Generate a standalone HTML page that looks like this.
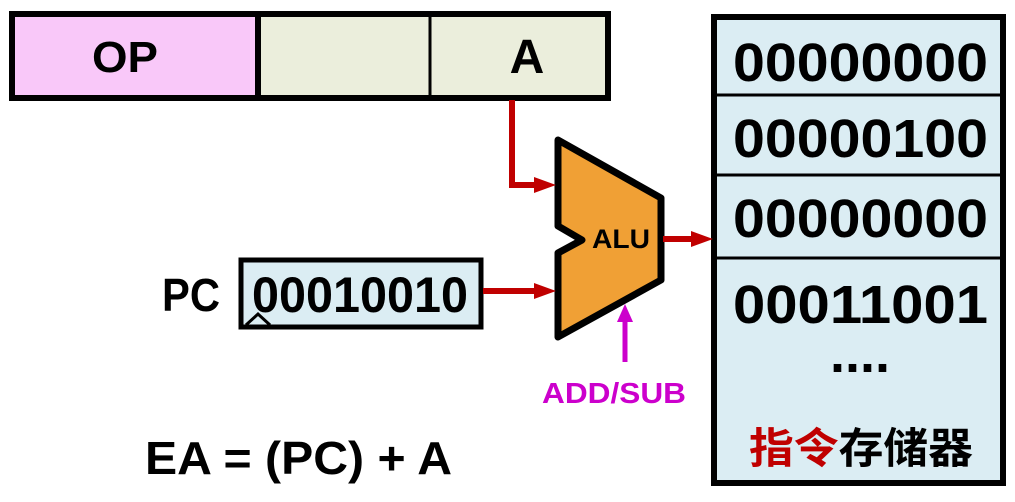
<!DOCTYPE html>
<html><head><meta charset="utf-8"><style>
body{margin:0;width:1015px;height:497px;background:#fff;overflow:hidden}
text{font-family:"Liberation Sans","Noto Sans CJK SC",sans-serif;font-weight:bold}
</style></head><body>
<svg width="1015" height="497" viewBox="0 0 1015 497">
<!-- instruction -->
<rect x="12" y="14" width="246" height="84" fill="#f9c8f9"/>
<rect x="258" y="14" width="350" height="84" fill="#ebeedc"/>
<rect x="12" y="14" width="596" height="84" fill="none" stroke="#000" stroke-width="6"/>
<line x1="258" y1="14" x2="258" y2="98" stroke="#000" stroke-width="6"/>
<line x1="430" y1="14" x2="430" y2="98" stroke="#000" stroke-width="3"/>
<text x="92" y="72" font-size="44" textLength="66" lengthAdjust="spacingAndGlyphs">OP</text>
<text x="527" y="73" font-size="48" text-anchor="middle">A</text>
<!-- memory -->
<rect x="714" y="17" width="289" height="466" fill="#dbedf3" stroke="#000" stroke-width="6"/>
<line x1="714" y1="95" x2="1003" y2="95" stroke="#000" stroke-width="3"/>
<line x1="714" y1="175" x2="1003" y2="175" stroke="#000" stroke-width="3"/>
<line x1="714" y1="258" x2="1003" y2="258" stroke="#000" stroke-width="3"/>
<g font-size="54" lengthAdjust="spacingAndGlyphs">
<text x="733" y="81" textLength="255" lengthAdjust="spacingAndGlyphs">00000000</text>
<text x="733" y="157" textLength="255" lengthAdjust="spacingAndGlyphs">00000100</text>
<text x="733" y="237" textLength="255" lengthAdjust="spacingAndGlyphs">00000000</text>
<text x="733" y="323" textLength="255" lengthAdjust="spacingAndGlyphs">00011001</text>
<text x="860" y="372" text-anchor="middle">....</text>
</g>
<text x="749" y="463" font-size="42" textLength="224" lengthAdjust="spacingAndGlyphs"><tspan fill="#c00000">指令</tspan>存储器</text>
<!-- PC -->
<text x="162" y="311" font-size="46" textLength="58" lengthAdjust="spacingAndGlyphs">PC</text>
<rect x="241" y="260" width="240" height="67" fill="#dbedf3" stroke="#000" stroke-width="5"/>
<path d="M246,325 L258,314 L270,325" fill="none" stroke="#000" stroke-width="3"/>
<text x="252" y="312" font-size="50" textLength="216" lengthAdjust="spacingAndGlyphs">00010010</text>
<!-- ALU -->
<polygon points="558,140 661,198 661,280 558,337 558,253 582,240 558,226" fill="#f0a035" stroke="#000" stroke-width="7" stroke-linejoin="round"/>
<text x="592" y="248" font-size="27" textLength="58" lengthAdjust="spacingAndGlyphs">ALU</text>
<!-- arrows -->
<polyline points="512,100 512,185 536,185" fill="none" stroke="#c00000" stroke-width="6"/>
<path d="M534,177 L556,185 L534,193z" fill="#c00000"/>
<line x1="483" y1="291" x2="536" y2="291" stroke="#c00000" stroke-width="6"/>
<path d="M534,283 L556,291 L534,299z" fill="#c00000"/>
<line x1="663" y1="239" x2="693" y2="239" stroke="#c00000" stroke-width="6"/>
<path d="M691,231 L713,239 L691,247z" fill="#c00000"/>
<line x1="625" y1="362" x2="625" y2="320" stroke="#cc00cc" stroke-width="5"/>
<path d="M617,322 L625,304 L633,322z" fill="#cc00cc"/>
<text x="542" y="403" font-size="29" fill="#cc00cc" textLength="144" lengthAdjust="spacingAndGlyphs">ADD/SUB</text>
<text x="145" y="474" font-size="46" textLength="307" lengthAdjust="spacingAndGlyphs">EA = (PC) + A</text>
</svg>
</body></html>
